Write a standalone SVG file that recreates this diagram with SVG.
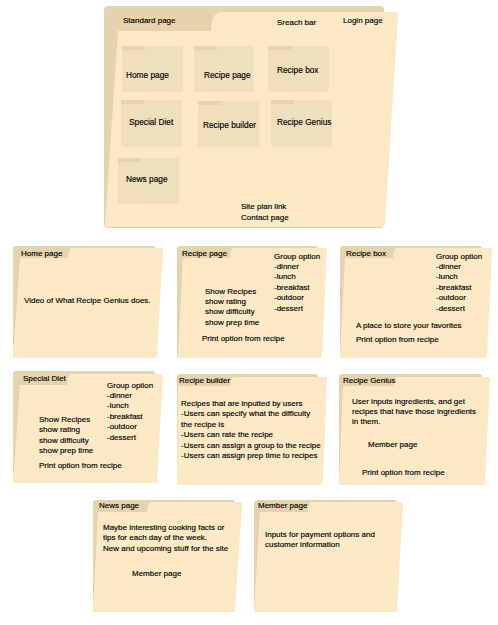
<svg xmlns="http://www.w3.org/2000/svg" width="498" height="625" viewBox="0 0 498 625">
<style>
.back{fill:#e5d3ad}
.front{fill:#fbe9c6}
.sf{fill:#f0dfbc}
.st{fill:#e6d4af}
text{font-family:"Liberation Sans",Arial,sans-serif;font-size:8px;fill:#000;stroke:#000;stroke-width:0.15}
.ml{font-size:8.3px}
</style>
<rect width="498" height="625" fill="#ffffff"/>
<g id="standard-page">
<rect class="back" x="104" y="6" width="280" height="222" rx="4"/>
<path class="front" d="M118,31 L211,31 Q211,14 220,12 L395,12 Q398,12 398,15 L385,224 Q385,227 382,227 L108,227 Q105,227 105,224 Z"/>
<text x="123" y="23">Standard page</text>
<text x="277" y="25">Sreach bar</text>
<text x="343" y="23">Login page</text>
<g id="mini-home"><rect class="sf" x="122" y="46" width="61" height="46" rx="2"/><rect class="st" x="122" y="46" width="23" height="4"/><text class="ml" x="126" y="78">Home page</text></g>
<g id="mini-recipe-page"><rect class="sf" x="194" y="46" width="60" height="46" rx="2"/><rect class="st" x="194" y="46" width="23" height="4"/><text class="ml" x="204" y="78">Recipe page</text></g>
<g id="mini-recipe-box"><rect class="sf" x="268" y="46" width="61" height="46" rx="2"/><rect class="st" x="268" y="46" width="23" height="4"/><text class="ml" x="277" y="73">Recipe box</text></g>
<g id="mini-special-diet"><rect class="sf" x="121" y="100" width="61" height="47" rx="2"/><rect class="st" x="121" y="100" width="23" height="4"/><text class="ml" x="129" y="125">Special Diet</text></g>
<g id="mini-recipe-builder"><rect class="sf" x="198" y="101" width="61" height="46" rx="2"/><rect class="st" x="198" y="101" width="23" height="4"/><text class="ml" x="203" y="128">Recipe builder</text></g>
<g id="mini-recipe-genius"><rect class="sf" x="271" y="100" width="61" height="47" rx="2"/><rect class="st" x="271" y="100" width="23" height="4"/><text class="ml" x="277" y="125">Recipe Genius</text></g>
<g id="mini-news"><rect class="sf" x="118" y="158" width="61" height="46" rx="2"/><rect class="st" x="118" y="158" width="23" height="4"/><text class="ml" x="126" y="182">News page</text></g>
<text x="241" y="209">Site plan link</text>
<text x="241" y="220">Contact page</text>
</g>
<g id="connectors"></g>
<g id="home-page">
<rect class="back" x="13" y="246" width="142" height="112" rx="3"/>
<path class="front" d="M20,258 L68,258 Q68,249 72,248 L161,248 Q163,248 163,250 L157,356 Q157,358 155,358 L15,358 Q13,358 13,356 Z"/>
<text x="21" y="256">Home page</text>
<text x="24" y="303">Video of What Recipe Genius does.</text>
</g>
<g id="recipe-page">
<rect class="back" x="177" y="246" width="141" height="112" rx="3"/>
<path class="front" d="M183,258 L230,258 Q230,249 234,248 L325,248 Q327,248 327,250 L322,356 Q322,358 320,358 L180,358 Q178,358 178,356 Z"/>
<text x="182" y="256">Recipe page</text>
<text x="274" y="259">Group option</text>
<text x="274" y="269">-dinner</text>
<text x="274" y="279">-lunch</text>
<text x="274" y="290">-breakfast</text>
<text x="274" y="300">-outdoor</text>
<text x="274" y="311">-dessert</text>
<text x="205" y="294">Show Recipes</text>
<text x="205" y="304">show rating</text>
<text x="205" y="314">show difficulty</text>
<text x="205" y="325">show prep time</text>
<text x="202" y="341">Print option from recipe</text>
</g>
<g id="recipe-box">
<rect class="back" x="340" y="246" width="142" height="112" rx="3"/>
<path class="front" d="M345,258 L393,258 Q393,249 397,248 L490,248 Q492,248 492,250 L487,356 Q487,358 485,358 L342,358 Q340,358 340,356 Z"/>
<text x="346" y="256">Recipe box</text>
<text x="436" y="259">Group option</text>
<text x="436" y="269">-dinner</text>
<text x="436" y="279">-lunch</text>
<text x="436" y="290">-breakfast</text>
<text x="436" y="300">-outdoor</text>
<text x="436" y="311">-dessert</text>
<text x="356" y="328">A place to store your favorites</text>
<text x="356" y="342">Print option from recipe</text>
</g>
<g id="special-diet">
<rect class="back" x="13" y="371" width="142" height="112" rx="3"/>
<path class="front" d="M20,385 L67,385 Q67,375 71,374 L161,374 Q163,374 163,376 L157,481 Q157,483 155,483 L15,483 Q13,483 13,481 Z"/>
<text x="23" y="381">Special Diet</text>
<text x="107" y="388">Group option</text>
<text x="107" y="398">-dinner</text>
<text x="107" y="408">-lunch</text>
<text x="107" y="419">-breakfast</text>
<text x="107" y="429">-outdoor</text>
<text x="107" y="440">-dessert</text>
<text x="39" y="422">Show Recipes</text>
<text x="39" y="432">show rating</text>
<text x="39" y="443">show difficulty</text>
<text x="39" y="453">show prep time</text>
<text x="39" y="468">Print option from recipe</text>
</g>
<g id="recipe-builder">
<rect class="back" x="177" y="374" width="141" height="111" rx="3"/>
<path class="front" d="M178,386 L230,386 Q230,378 234,377 L325,377 Q327,377 327,379 L323,483 Q323,485 321,485 L179,485 Q177,485 177,483 Z"/>
<text x="179" y="383">Recipe builder</text>
<text x="181" y="406">Recipes that are inputted by users</text>
<text x="181" y="416">-Users can specify what the difficulty</text>
<text x="181" y="427">the recipe is</text>
<text x="181" y="437">-Users can rate the recipe</text>
<text x="181" y="448">-Users can assign a group to the recipe</text>
<text x="181" y="458">-Users can assign prep time to recipes</text>
</g>
<g id="recipe-genius">
<rect class="back" x="339" y="374" width="143" height="111" rx="3"/>
<path class="front" d="M343,386 L393,386 Q393,378 397,377 L488,377 Q490,377 490,379 L485,483 Q485,485 483,485 L341,485 Q339,485 339,483 Z"/>
<text x="343" y="383">Recipe Genius</text>
<text x="352" y="404">User inputs ingredients, and get</text>
<text x="352" y="414">recipes that have those ingredients</text>
<text x="352" y="424">in them.</text>
<text x="368" y="447">Member page</text>
<text x="362" y="475">Print option from recipe</text>
</g>
<g id="news-page">
<rect class="back" x="93" y="500" width="142" height="112" rx="3"/>
<path class="front" d="M98,512 L147,512 Q147,503 151,502 L240,502 Q242,502 242,504 L235,610 Q235,612 233,612 L95,612 Q93,612 93,610 Z"/>
<text x="99" y="508">News page</text>
<text x="103" y="530">Maybe interesting cooking facts or</text>
<text x="103" y="540">tips for each day of the week.</text>
<text x="103" y="551">New and upcoming stuff for the site</text>
<text x="132" y="576">Member page</text>
</g>
<g id="member-page">
<rect class="back" x="254" y="500" width="143" height="112" rx="3"/>
<path class="front" d="M260,512 L308,512 Q308,503 312,502 L401,502 Q403,502 403,504 L397,610 Q397,612 395,612 L256,612 Q254,612 254,610 Z"/>
<text x="258" y="508">Member page</text>
<text x="265" y="537">Inputs for payment options and</text>
<text x="265" y="547">customer information</text>
</g>
</svg>
